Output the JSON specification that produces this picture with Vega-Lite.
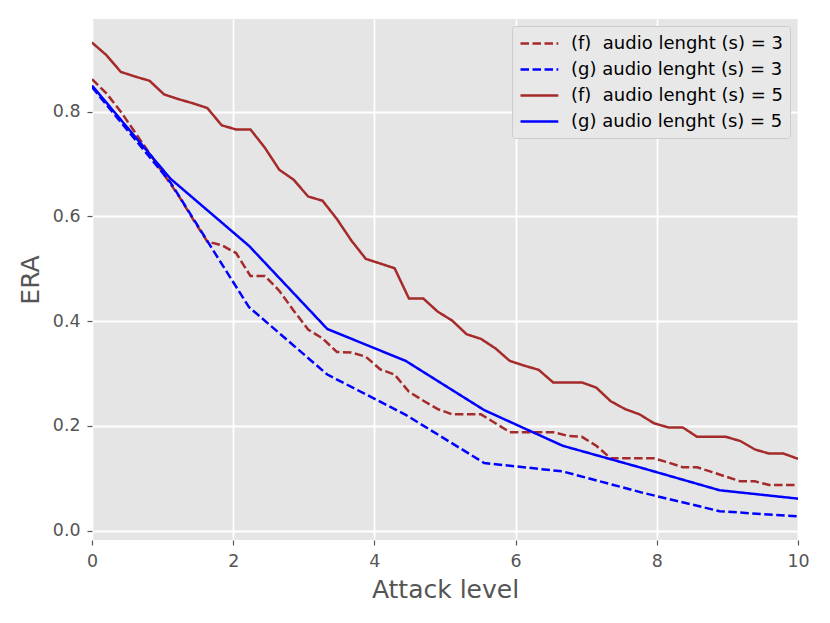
{
  "$schema": "https://vega.github.io/schema/vega-lite/v6.json",
  "width": 706,
  "height": 521,
  "autosize": {"type": "none"},
  "padding": {"left": 92, "top": 19, "right": 32, "bottom": 83},
  "background": "white",
  "config": {
    "font": "DejaVu Sans",
    "view": {"fill": "#E5E5E5", "stroke": null},
    "axis": {
      "domain": false,
      "grid": true,
      "gridColor": "#FFFFFF",
      "gridWidth": 1.8,
      "tickColor": "#555555",
      "tickSize": 5,
      "tickWidth": 1.2,
      "labelColor": "#555555",
      "labelFontSize": 17.4,
      "labelFont": "DejaVu Sans",
      "labelFlush": false,
      "titleColor": "#555555",
      "titleFontSize": 25,
      "titleFont": "DejaVu Sans",
      "titleFontWeight": "normal"
    }
  },
  "data": {
    "values": [
      {"x": 0, "era": 0.862, "series": "(f)  audio lenght (s) = 3"},
      {"x": 0.204, "era": 0.835, "series": "(f)  audio lenght (s) = 3"},
      {"x": 0.408, "era": 0.800, "series": "(f)  audio lenght (s) = 3"},
      {"x": 0.612, "era": 0.760, "series": "(f)  audio lenght (s) = 3"},
      {"x": 0.816, "era": 0.720, "series": "(f)  audio lenght (s) = 3"},
      {"x": 1.020, "era": 0.680, "series": "(f)  audio lenght (s) = 3"},
      {"x": 1.224, "era": 0.640, "series": "(f)  audio lenght (s) = 3"},
      {"x": 1.429, "era": 0.595, "series": "(f)  audio lenght (s) = 3"},
      {"x": 1.633, "era": 0.552, "series": "(f)  audio lenght (s) = 3"},
      {"x": 1.837, "era": 0.545, "series": "(f)  audio lenght (s) = 3"},
      {"x": 2.041, "era": 0.530, "series": "(f)  audio lenght (s) = 3"},
      {"x": 2.245, "era": 0.486, "series": "(f)  audio lenght (s) = 3"},
      {"x": 2.449, "era": 0.486, "series": "(f)  audio lenght (s) = 3"},
      {"x": 2.653, "era": 0.458, "series": "(f)  audio lenght (s) = 3"},
      {"x": 2.857, "era": 0.420, "series": "(f)  audio lenght (s) = 3"},
      {"x": 3.061, "era": 0.384, "series": "(f)  audio lenght (s) = 3"},
      {"x": 3.265, "era": 0.367, "series": "(f)  audio lenght (s) = 3"},
      {"x": 3.469, "era": 0.341, "series": "(f)  audio lenght (s) = 3"},
      {"x": 3.673, "era": 0.340, "series": "(f)  audio lenght (s) = 3"},
      {"x": 3.878, "era": 0.332, "series": "(f)  audio lenght (s) = 3"},
      {"x": 4.082, "era": 0.308, "series": "(f)  audio lenght (s) = 3"},
      {"x": 4.286, "era": 0.298, "series": "(f)  audio lenght (s) = 3"},
      {"x": 4.490, "era": 0.265, "series": "(f)  audio lenght (s) = 3"},
      {"x": 4.694, "era": 0.248, "series": "(f)  audio lenght (s) = 3"},
      {"x": 4.898, "era": 0.232, "series": "(f)  audio lenght (s) = 3"},
      {"x": 5.102, "era": 0.222, "series": "(f)  audio lenght (s) = 3"},
      {"x": 5.306, "era": 0.222, "series": "(f)  audio lenght (s) = 3"},
      {"x": 5.510, "era": 0.222, "series": "(f)  audio lenght (s) = 3"},
      {"x": 5.714, "era": 0.205, "series": "(f)  audio lenght (s) = 3"},
      {"x": 5.918, "era": 0.188, "series": "(f)  audio lenght (s) = 3"},
      {"x": 6.122, "era": 0.188, "series": "(f)  audio lenght (s) = 3"},
      {"x": 6.327, "era": 0.188, "series": "(f)  audio lenght (s) = 3"},
      {"x": 6.531, "era": 0.188, "series": "(f)  audio lenght (s) = 3"},
      {"x": 6.735, "era": 0.181, "series": "(f)  audio lenght (s) = 3"},
      {"x": 6.939, "era": 0.179, "series": "(f)  audio lenght (s) = 3"},
      {"x": 7.143, "era": 0.162, "series": "(f)  audio lenght (s) = 3"},
      {"x": 7.347, "era": 0.138, "series": "(f)  audio lenght (s) = 3"},
      {"x": 7.551, "era": 0.138, "series": "(f)  audio lenght (s) = 3"},
      {"x": 7.755, "era": 0.138, "series": "(f)  audio lenght (s) = 3"},
      {"x": 7.959, "era": 0.138, "series": "(f)  audio lenght (s) = 3"},
      {"x": 8.163, "era": 0.130, "series": "(f)  audio lenght (s) = 3"},
      {"x": 8.367, "era": 0.121, "series": "(f)  audio lenght (s) = 3"},
      {"x": 8.571, "era": 0.121, "series": "(f)  audio lenght (s) = 3"},
      {"x": 8.776, "era": 0.112, "series": "(f)  audio lenght (s) = 3"},
      {"x": 8.980, "era": 0.103, "series": "(f)  audio lenght (s) = 3"},
      {"x": 9.184, "era": 0.094, "series": "(f)  audio lenght (s) = 3"},
      {"x": 9.388, "era": 0.094, "series": "(f)  audio lenght (s) = 3"},
      {"x": 9.592, "era": 0.087, "series": "(f)  audio lenght (s) = 3"},
      {"x": 9.796, "era": 0.087, "series": "(f)  audio lenght (s) = 3"},
      {"x": 10, "era": 0.087, "series": "(f)  audio lenght (s) = 3"},

      {"x": 0, "era": 0.847, "series": "(g) audio lenght (s) = 3"},
      {"x": 1.111, "era": 0.665, "series": "(g) audio lenght (s) = 3"},
      {"x": 2.222, "era": 0.427, "series": "(g) audio lenght (s) = 3"},
      {"x": 3.333, "era": 0.298, "series": "(g) audio lenght (s) = 3"},
      {"x": 4.444, "era": 0.221, "series": "(g) audio lenght (s) = 3"},
      {"x": 5.556, "era": 0.129, "series": "(g) audio lenght (s) = 3"},
      {"x": 6.667, "era": 0.113, "series": "(g) audio lenght (s) = 3"},
      {"x": 7.778, "era": 0.073, "series": "(g) audio lenght (s) = 3"},
      {"x": 8.889, "era": 0.037, "series": "(g) audio lenght (s) = 3"},
      {"x": 10, "era": 0.027, "series": "(g) audio lenght (s) = 3"},

      {"x": 0, "era": 0.932, "series": "(f)  audio lenght (s) = 5"},
      {"x": 0.204, "era": 0.908, "series": "(f)  audio lenght (s) = 5"},
      {"x": 0.408, "era": 0.876, "series": "(f)  audio lenght (s) = 5"},
      {"x": 0.612, "era": 0.867, "series": "(f)  audio lenght (s) = 5"},
      {"x": 0.816, "era": 0.859, "series": "(f)  audio lenght (s) = 5"},
      {"x": 1.020, "era": 0.833, "series": "(f)  audio lenght (s) = 5"},
      {"x": 1.224, "era": 0.824, "series": "(f)  audio lenght (s) = 5"},
      {"x": 1.429, "era": 0.816, "series": "(f)  audio lenght (s) = 5"},
      {"x": 1.633, "era": 0.807, "series": "(f)  audio lenght (s) = 5"},
      {"x": 1.837, "era": 0.774, "series": "(f)  audio lenght (s) = 5"},
      {"x": 2.041, "era": 0.766, "series": "(f)  audio lenght (s) = 5"},
      {"x": 2.245, "era": 0.766, "series": "(f)  audio lenght (s) = 5"},
      {"x": 2.449, "era": 0.731, "series": "(f)  audio lenght (s) = 5"},
      {"x": 2.653, "era": 0.689, "series": "(f)  audio lenght (s) = 5"},
      {"x": 2.857, "era": 0.670, "series": "(f)  audio lenght (s) = 5"},
      {"x": 3.061, "era": 0.638, "series": "(f)  audio lenght (s) = 5"},
      {"x": 3.265, "era": 0.630, "series": "(f)  audio lenght (s) = 5"},
      {"x": 3.469, "era": 0.595, "series": "(f)  audio lenght (s) = 5"},
      {"x": 3.673, "era": 0.554, "series": "(f)  audio lenght (s) = 5"},
      {"x": 3.878, "era": 0.519, "series": "(f)  audio lenght (s) = 5"},
      {"x": 4.082, "era": 0.510, "series": "(f)  audio lenght (s) = 5"},
      {"x": 4.286, "era": 0.501, "series": "(f)  audio lenght (s) = 5"},
      {"x": 4.490, "era": 0.443, "series": "(f)  audio lenght (s) = 5"},
      {"x": 4.694, "era": 0.443, "series": "(f)  audio lenght (s) = 5"},
      {"x": 4.898, "era": 0.418, "series": "(f)  audio lenght (s) = 5"},
      {"x": 5.102, "era": 0.401, "series": "(f)  audio lenght (s) = 5"},
      {"x": 5.306, "era": 0.375, "series": "(f)  audio lenght (s) = 5"},
      {"x": 5.510, "era": 0.366, "series": "(f)  audio lenght (s) = 5"},
      {"x": 5.714, "era": 0.348, "series": "(f)  audio lenght (s) = 5"},
      {"x": 5.918, "era": 0.324, "series": "(f)  audio lenght (s) = 5"},
      {"x": 6.122, "era": 0.315, "series": "(f)  audio lenght (s) = 5"},
      {"x": 6.327, "era": 0.307, "series": "(f)  audio lenght (s) = 5"},
      {"x": 6.531, "era": 0.283, "series": "(f)  audio lenght (s) = 5"},
      {"x": 6.735, "era": 0.283, "series": "(f)  audio lenght (s) = 5"},
      {"x": 6.939, "era": 0.283, "series": "(f)  audio lenght (s) = 5"},
      {"x": 7.143, "era": 0.273, "series": "(f)  audio lenght (s) = 5"},
      {"x": 7.347, "era": 0.247, "series": "(f)  audio lenght (s) = 5"},
      {"x": 7.551, "era": 0.232, "series": "(f)  audio lenght (s) = 5"},
      {"x": 7.755, "era": 0.222, "series": "(f)  audio lenght (s) = 5"},
      {"x": 7.959, "era": 0.205, "series": "(f)  audio lenght (s) = 5"},
      {"x": 8.163, "era": 0.197, "series": "(f)  audio lenght (s) = 5"},
      {"x": 8.367, "era": 0.197, "series": "(f)  audio lenght (s) = 5"},
      {"x": 8.571, "era": 0.179, "series": "(f)  audio lenght (s) = 5"},
      {"x": 8.776, "era": 0.179, "series": "(f)  audio lenght (s) = 5"},
      {"x": 8.980, "era": 0.179, "series": "(f)  audio lenght (s) = 5"},
      {"x": 9.184, "era": 0.171, "series": "(f)  audio lenght (s) = 5"},
      {"x": 9.388, "era": 0.155, "series": "(f)  audio lenght (s) = 5"},
      {"x": 9.592, "era": 0.147, "series": "(f)  audio lenght (s) = 5"},
      {"x": 9.796, "era": 0.147, "series": "(f)  audio lenght (s) = 5"},
      {"x": 10, "era": 0.137, "series": "(f)  audio lenght (s) = 5"},

      {"x": 0, "era": 0.850, "series": "(g) audio lenght (s) = 5"},
      {"x": 1.111, "era": 0.672, "series": "(g) audio lenght (s) = 5"},
      {"x": 2.222, "era": 0.544, "series": "(g) audio lenght (s) = 5"},
      {"x": 3.333, "era": 0.385, "series": "(g) audio lenght (s) = 5"},
      {"x": 4.444, "era": 0.324, "series": "(g) audio lenght (s) = 5"},
      {"x": 5.556, "era": 0.230, "series": "(g) audio lenght (s) = 5"},
      {"x": 6.667, "era": 0.162, "series": "(g) audio lenght (s) = 5"},
      {"x": 7.778, "era": 0.120, "series": "(g) audio lenght (s) = 5"},
      {"x": 8.889, "era": 0.077, "series": "(g) audio lenght (s) = 5"},
      {"x": 10, "era": 0.061, "series": "(g) audio lenght (s) = 5"}
    ]
  },
  "mark": {"type": "line", "strokeWidth": 2.5, "clip": true},
  "encoding": {
    "x": {
      "field": "x",
      "type": "quantitative",
      "scale": {"domain": [0, 10], "nice": false, "zero": false},
      "axis": {"title": "Attack level", "values": [0, 2, 4, 6, 8, 10], "format": "d", "labelPadding": 7, "titlePadding": 8}
    },
    "y": {
      "field": "era",
      "type": "quantitative",
      "scale": {"domain": [-0.018, 0.977], "nice": false, "zero": false},
      "axis": {"title": "ERA", "values": [0, 0.2, 0.4, 0.6, 0.8], "format": ".1f", "labelPadding": 7, "titlePadding": 9}
    },
    "color": {
      "field": "series",
      "type": "nominal",
      "scale": {
        "domain": ["(f)  audio lenght (s) = 3", "(g) audio lenght (s) = 3", "(f)  audio lenght (s) = 5", "(g) audio lenght (s) = 5"],
        "range": ["#A52A2A", "#0000FF", "#A52A2A", "#0000FF"]
      },
      "legend": {
        "title": null,
        "orient": "none",
        "legendX": 420,
        "legendY": 7,
        "fillColor": "#E8E8E8",
        "strokeColor": "#CCCCCC",
        "cornerRadius": 3,
        "padding": 7,
        "rowPadding": 6,
        "symbolType": "M-1,0L3.2,0",
        "symbolSize": 324,
        "symbolStrokeWidth": 2.5,
        "symbolFillColor": "transparent",
        "labelFontSize": 18,
        "labelFont": "DejaVu Sans",
        "labelColor": "#000000",
        "labelOffset": 31,
        "labelLimit": 400,
        "labelExpr": "replace(datum.label, '(f) ', '(f)\u00a0')"
      }
    },
    "strokeDash": {
      "field": "series",
      "type": "nominal",
      "scale": {
        "domain": ["(f)  audio lenght (s) = 3", "(g) audio lenght (s) = 3", "(f)  audio lenght (s) = 5", "(g) audio lenght (s) = 5"],
        "range": [[8.5, 3.5], [8.5, 3.5], [1, 0], [1, 0]]
      },
      "legend": null
    },
    "order": {"field": "x", "type": "quantitative"}
  }
}
